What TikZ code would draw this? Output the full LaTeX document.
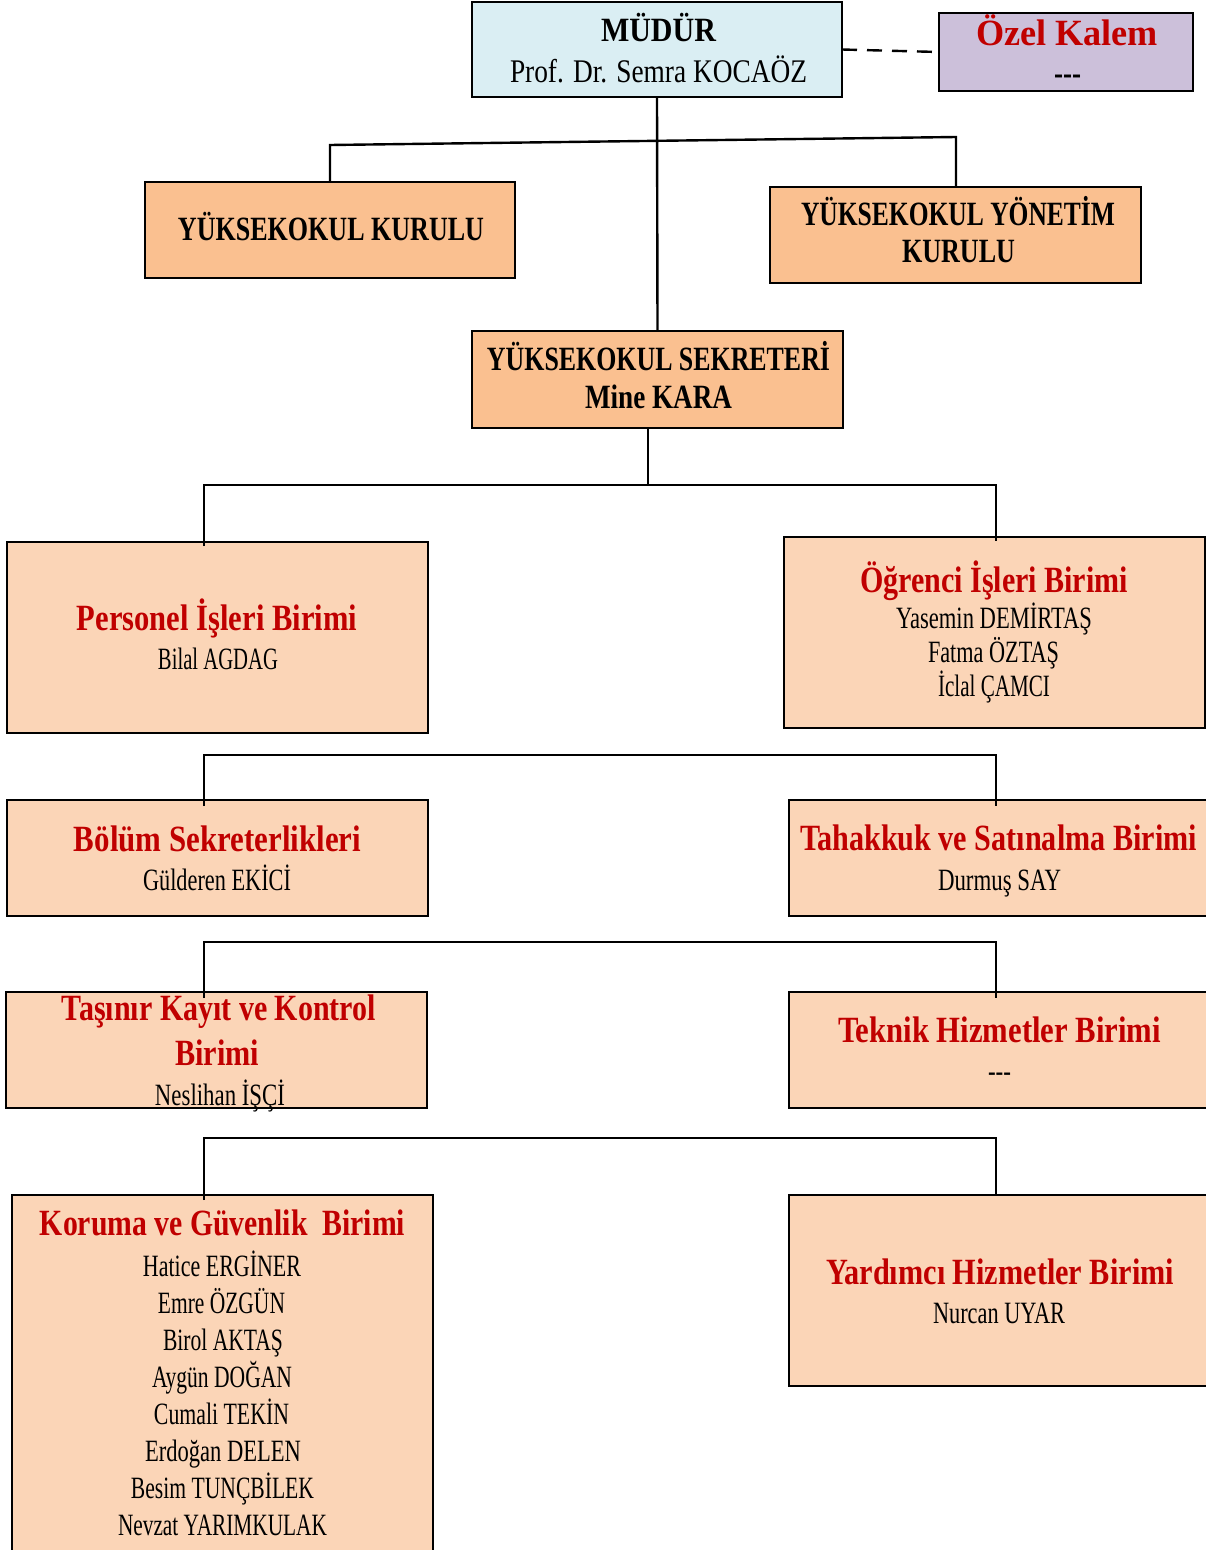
\documentclass[tikz,border=0pt]{standalone}
\usepackage{fontspec}
\usepackage{graphicx}
\setmainfont{Liberation Serif}
\usetikzlibrary{calc}
\definecolor{kred}{HTML}{C00000}
\definecolor{kblue}{HTML}{DAEEF3}
\definecolor{klav}{HTML}{CCC0DA}
\definecolor{korange}{HTML}{FAC090}
\definecolor{kpeach}{HTML}{FBD5B7}
\newcommand\bx[6]{\node[boxframe,#2,minimum width={(#5-#3)*1pt},minimum height={(#6-#4)*1pt}] (#1) at ({(#3+#5)/2},{(#4+#6)/2}) {};}
\newcommand\tl[5]{\node[txt,#1] (#2) at (#3) {\resizebox{#4pt}{\height}{#5}};}
\begin{document}
\begin{tikzpicture}[x=1pt,y=-1pt,
  boxframe/.style={draw=black,line width=2.6pt,inner sep=0pt,outer sep=0pt},
  conn/.style={draw=black,line width=2.4pt},
  txt/.style={anchor=base,inner sep=0pt,outer sep=0pt},
  headbf/.style={font=\fontsize{34}{38}\selectfont\bfseries,text=black},
  headrm/.style={font=\fontsize{33}{37}\selectfont,text=black},
  ttl/.style={font=\fontsize{37}{40}\selectfont\bfseries,text=kred},
  nm/.style={font=\fontsize{31}{34}\selectfont,text=black}]
\clip (0,0) rectangle (1206,1550);
\fill[white] (0,0) rectangle (1206,1550);
% boxes
\bx{mudur}{fill=kblue}{472}{2}{842}{97}
\bx{ozel}{fill=klav}{939}{13}{1193}{91}
\bx{kurulu}{fill=korange}{145}{182}{515}{278}
\bx{yonetim}{fill=korange}{770}{187}{1141}{283}
\bx{sek}{fill=korange}{472}{331}{843}{428}
\bx{personel}{fill=kpeach}{7}{542}{428}{733}
\bx{ogrenci}{fill=kpeach}{784}{537}{1205}{728}
\bx{bolum}{fill=kpeach}{7}{800}{428}{916}
\bx{tahakkuk}{fill=kpeach}{789}{800}{1220}{916}
\bx{tasinir}{fill=kpeach}{6}{992}{427}{1108}
\bx{teknik}{fill=kpeach}{789}{992}{1220}{1108}
\bx{koruma}{fill=kpeach}{12}{1195}{433}{1565}
\bx{yardimci}{fill=kpeach}{789}{1195}{1220}{1386}
% connectors
\draw[conn,dash pattern=on 15pt off 10pt] (mudur.east) -- (ozel.west);
\draw[conn] (mudur.south) -- (sek.north);
\coordinate (b1) at (330,145);
\coordinate (b2) at (956,137);
\draw[conn] (kurulu.north -| b1) -- (b1) -- (b2) -- (yonetim.north -| b2);
\coordinate (j1) at (648,485);
\coordinate (h1l) at (204,485);
\coordinate (h1r) at (996,485);
\draw[conn] (sek.south -| j1) -- (j1);
\draw[conn] ($(personel.north -| h1l)+(0,4)$) -- (h1l) -- (h1r) -- ($(ogrenci.north -| h1r)+(0,4)$);
\coordinate (h2l) at (204,755);
\coordinate (h2r) at (996,755);
\draw[conn] ($(bolum.north -| h2l)+(0,6)$) -- (h2l) -- (h2r) -- ($(tahakkuk.north -| h2r)+(0,6)$);
\coordinate (h3l) at (204,942);
\coordinate (h3r) at (996,942);
\draw[conn] ($(tasinir.north -| h3l)+(0,6)$) -- (h3l) -- (h3r) -- ($(teknik.north -| h3r)+(0,6)$);
\coordinate (h4l) at (204,1138);
\coordinate (h4r) at (996,1138);
\draw[conn] ($(koruma.north -| h4l)+(0,5)$) -- (h4l) -- (h4r) -- (yardimci.north -| h4r);
% texts
\tl{headbf}{tm1}{658.5,41}{115}{MÜDÜR}
\tl{headrm}{tm2}{658.5,82}{297}{Prof. Dr. Semra KOCAÖZ}
\tl{ttl}{to1}{1067,45}{182}{Özel Kalem}
\tl{headbf}{to2}{1067.5,84}{27}{-{}-{}-}
\tl{headbf}{tk1}{331,240}{306}{YÜKSEKOKUL KURULU}
\tl{headbf}{ty1}{958,225}{314}{YÜKSEKOKUL YÖNETİM}
\tl{headbf}{ty2}{958.5,262}{113}{KURULU}
\tl{headbf}{ts1}{658.5,370}{343}{YÜKSEKOKUL SEKRETERİ}
\tl{headbf}{ts2}{658.5,408}{147}{Mine KARA}
\tl{ttl}{tp1}{217,630}{280}{Personel İşleri Birimi}
\tl{nm}{tp2}{218,669}{120}{Bilal AGDAG}
\tl{ttl}{tg1}{994,592}{268}{Öğrenci İşleri Birimi}
\tl{nm}{tg2}{994,628}{196}{Yasemin DEMİRTAŞ}
\tl{nm}{tg3}{993.5,662}{131}{Fatma ÖZTAŞ}
\tl{nm}{tg4}{994,696}{112}{İclal ÇAMCI}
\tl{ttl}{tb1}{217.5,851}{287}{Bölüm Sekreterlikleri}
\tl{nm}{tb2}{217,890}{148}{Gülderen EKİCİ}
\tl{ttl}{tt1}{998.5,850}{397}{Tahakkuk ve Satınalma Birimi}
\tl{nm}{tt2}{999.5,890}{123}{Durmuş SAY}
\tl{ttl}{tn1}{219,1020}{314}{Taşınır Kayıt ve Kontrol}
\tl{ttl}{tn2}{217,1065}{84}{Birimi}
\tl{nm}{tn3}{220,1105}{130}{Neslihan İŞÇİ}
\tl{ttl}{te1}{999.5,1042}{323}{Teknik Hizmetler Birimi}
\tl{nm}{te2}{999.5,1081}{23}{-{}-{}-}
\tl{ttl}{tr1}{222.5,1235}{365}{Koruma ve Güvenlik\ \ Birimi}
\tl{nm}{tr2}{222,1276}{158}{Hatice ERGİNER}
\tl{nm}{tr3}{221.5,1313}{127}{Emre ÖZGÜN}
\tl{nm}{tr4}{223,1350}{120}{Birol AKTAŞ}
\tl{nm}{tr5}{222,1387}{140}{Aygün DOĞAN}
\tl{nm}{tr6}{221.5,1424}{135}{Cumali TEKİN}
\tl{nm}{tr7}{223,1461}{156}{Erdoğan DELEN}
\tl{nm}{tr8}{222.5,1498}{183}{Besim TUNÇBİLEK}
\tl{nm}{tr9}{222.5,1535}{209}{Nevzat YARIMKULAK}
\tl{ttl}{tu1}{1000,1284}{348}{Yardımcı Hizmetler Birimi}
\tl{nm}{tu2}{999,1323}{132}{Nurcan UYAR}
\end{tikzpicture}
\end{document}
